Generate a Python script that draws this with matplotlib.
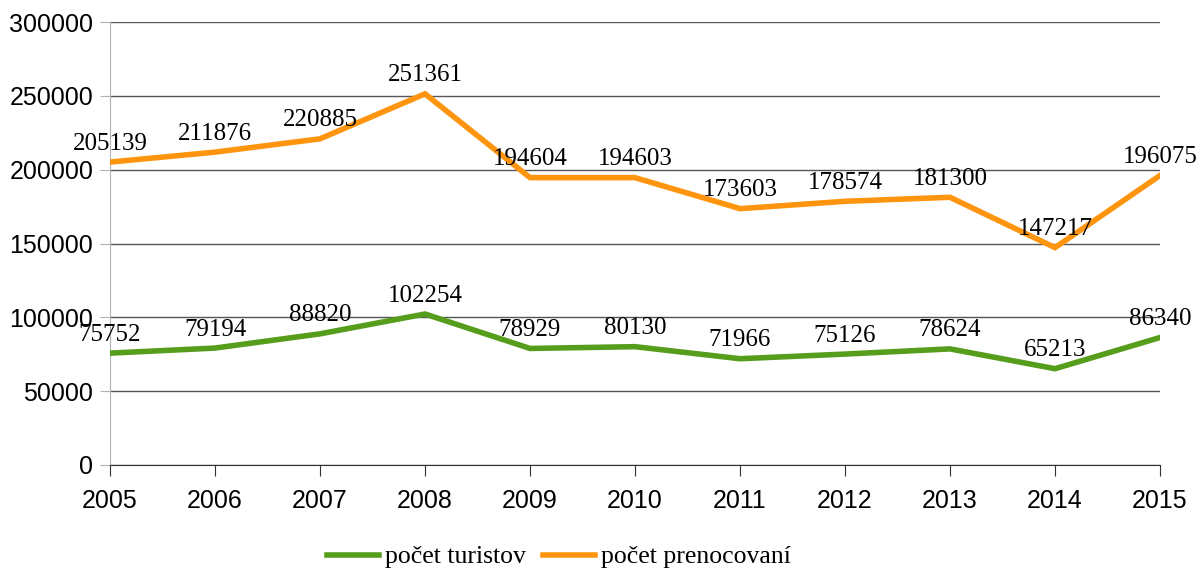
import matplotlib.pyplot as plt

# Data
years = [2005, 2006, 2007, 2008, 2009, 2010, 2011, 2012, 2013, 2014, 2015]
turisti = [75752, 79194, 88820, 102254, 78929, 80130, 71966, 75126, 78624, 65213, 86340]
prenocovani = [205139, 211876, 220885, 251361, 194604, 194603, 173603, 178574, 181300, 147217, 196075]

GREEN = '#579d1c'
ORANGE = '#ff950e'


def main():
  fig = plt.figure(figsize=(12.02, 5.77), dpi=100)
  ax = fig.add_axes([110 / 1202, 112 / 577, 1050 / 1202, 443 / 577])

  ax.plot(years, turisti, color=GREEN, lw=4, label='počet turistov',
          solid_joinstyle='miter', zorder=3)
  ax.plot(years, prenocovani, color=ORANGE, lw=4, label='počet prenocovaní',
          solid_joinstyle='miter', zorder=3)

  # Data labels above each point
  for series in (turisti, prenocovani):
    for x, y in zip(years, series):
      ax.annotate(str(y), (x, y), xytext=(0, 9), textcoords='offset points',
                  ha='center', va='baseline', fontsize=18,
                  family='Liberation Serif', zorder=4)

  ax.set_xlim(2005, 2015)
  ax.set_ylim(0, 300000)
  ax.set_xticks(years)
  ax.set_yticks(range(0, 300001, 50000))
  ax.yaxis.grid(True, color='#555555', lw=1)
  ax.set_axisbelow(True)

  for side in ('top', 'right'):
    ax.spines[side].set_visible(False)
  ax.spines['left'].set_color('#b3b3b3')
  ax.spines['bottom'].set_color('#333333')

  ax.tick_params(axis='y', length=7, color='#b3b3b3', pad=5)
  ax.tick_params(axis='x', length=8, color='#333333', pad=9)
  for lbl in ax.get_xticklabels() + ax.get_yticklabels():
    lbl.set_family('Liberation Sans')
    lbl.set_fontsize(18)

  fig.legend(loc='center', bbox_to_anchor=(559 / 1202, 20 / 577), ncol=2,
             frameon=False, prop={'family': 'Liberation Serif', 'size': 18.5},
             handlelength=2.0, handletextpad=0.23, columnspacing=0.7)

  fig.savefig('out.png', dpi=100)
  plt.close(fig)


if __name__ == '__main__':
  main()
